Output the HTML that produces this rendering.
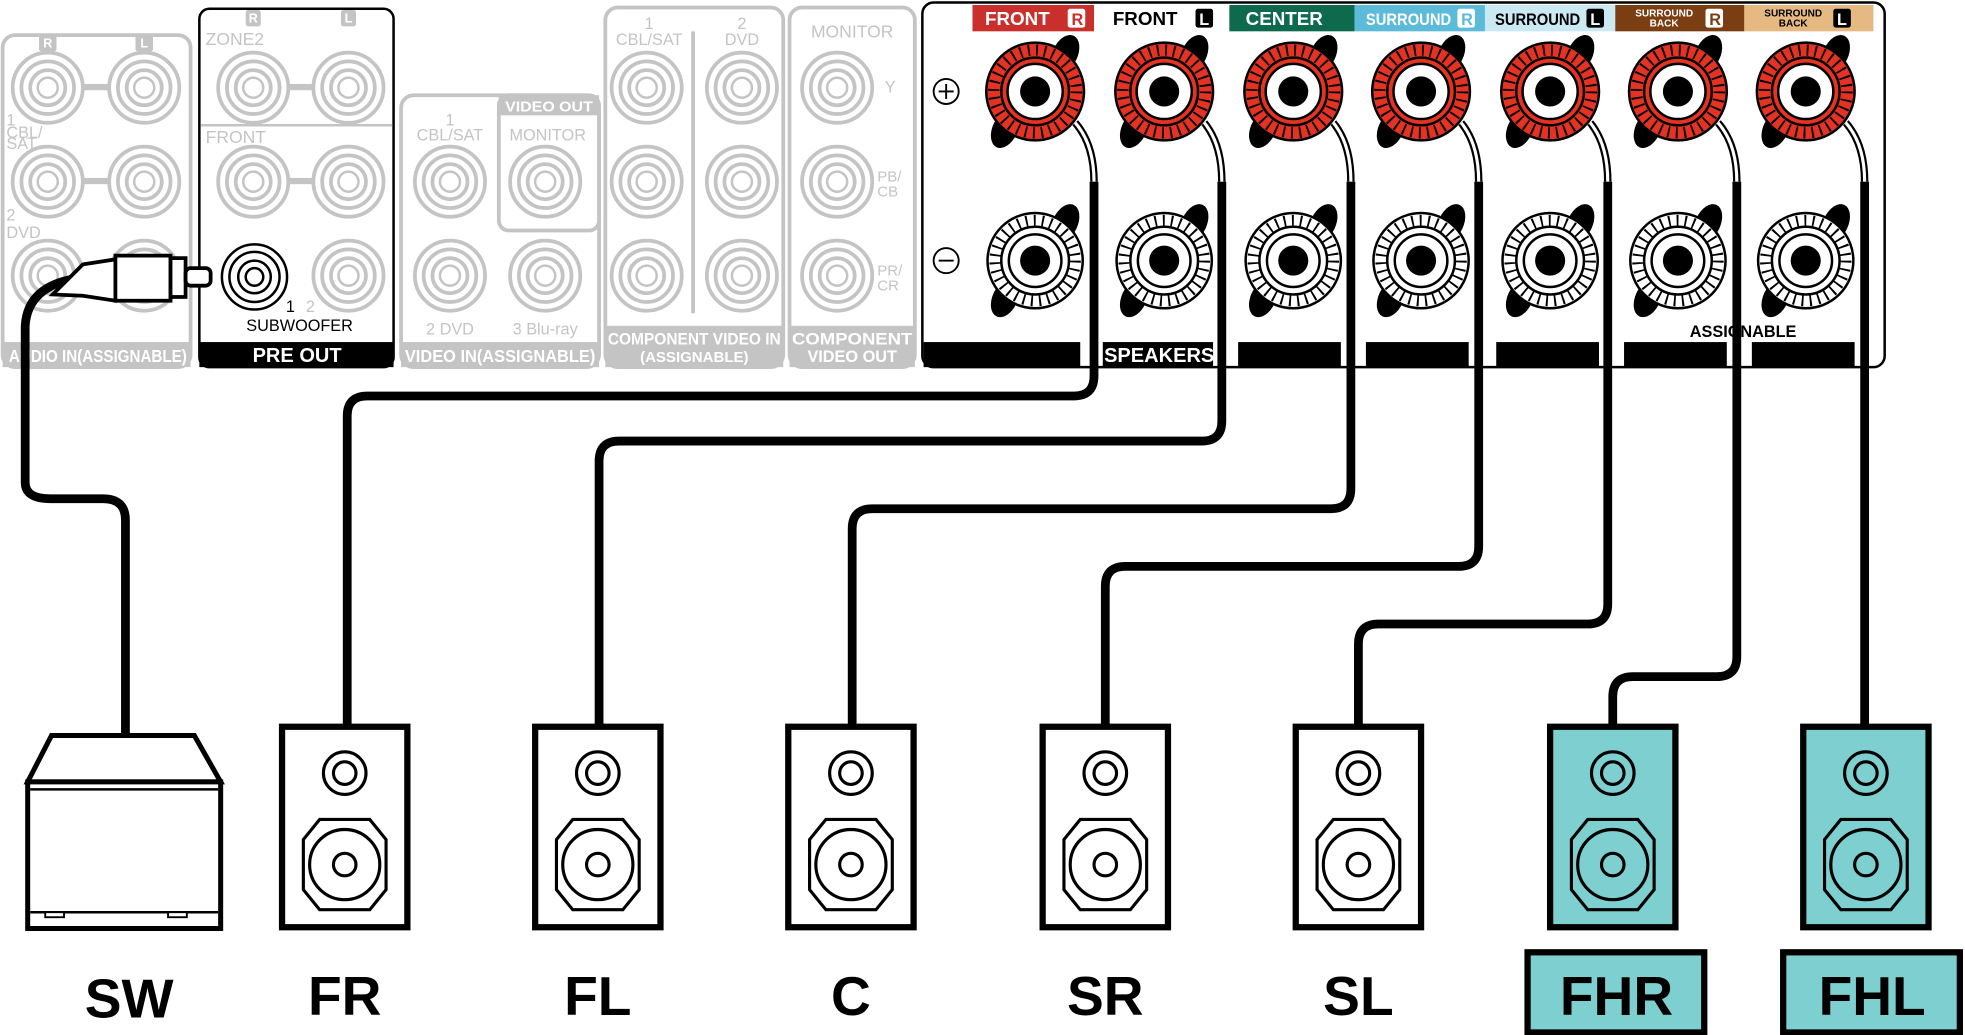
<!DOCTYPE html>
<html><head><meta charset="utf-8"><style>
html,body{margin:0;padding:0;background:#fff;}
svg{display:block;}
text{font-family:"Liberation Sans",sans-serif;}
</style></head><body>
<svg width="1965" height="1035" viewBox="0 0 1568 826" xmlns="http://www.w3.org/2000/svg">
<defs>
  <g id="rca">
    <circle r="28" fill="#fff" stroke="#c4c4c4" stroke-width="3"/>
    <circle r="21" fill="none" stroke="#c4c4c4" stroke-width="3"/>
    <circle r="14" fill="none" stroke="#c4c4c4" stroke-width="3"/>
    <circle r="8" fill="none" stroke="#c4c4c4" stroke-width="2"/>
  </g>
  <g id="tplus">
    <ellipse cx="24" cy="-30" rx="10" ry="16" transform="rotate(25 24 -30)" fill="#000"/>
    <ellipse cx="-24" cy="30" rx="10" ry="16" transform="rotate(25 -24 30)" fill="#000"/>
    <circle r="39" fill="#e53323" stroke="#000" stroke-width="2"/>
    <circle r="33" fill="none" stroke="#000" stroke-width="9" stroke-dasharray="1.5 5"/>
    <circle r="27" fill="#e53323" stroke="#000" stroke-width="2"/>
    <circle r="22" fill="#fff" stroke="#000" stroke-width="2"/>
    <circle r="12" fill="#000"/>
  </g>
  <g id="tminus">
    <ellipse cx="24" cy="-30" rx="10" ry="16" transform="rotate(25 24 -30)" fill="#000"/>
    <ellipse cx="-24" cy="30" rx="10" ry="16" transform="rotate(25 -24 30)" fill="#000"/>
    <circle r="38" fill="#fff" stroke="#000" stroke-width="2"/>
    <circle r="32" fill="none" stroke="#000" stroke-width="9" stroke-dasharray="1.5 5"/>
    <circle r="27" fill="#fff" stroke="#000" stroke-width="2"/>
    <circle r="21" fill="#fff" stroke="#000" stroke-width="2"/>
    <circle r="12" fill="#000"/>
  </g>
  <g id="spk">
    <rect x="-50" y="0" width="100" height="160" stroke="#000" stroke-width="5"/>
    <circle cx="0" cy="37" r="17" fill="none" stroke="#000" stroke-width="2.5"/>
    <circle cx="0" cy="37" r="9" fill="none" stroke="#000" stroke-width="2.5"/>
    <path d="M-20,74 L20,74 L33,90 L33,130 L20,146 L-20,146 L-33,130 L-33,90 Z" fill="none" stroke="#000" stroke-width="2.5"/>
    <circle cx="0" cy="110" r="28" fill="none" stroke="#000" stroke-width="2.5"/>
    <circle cx="0" cy="110" r="9" fill="none" stroke="#000" stroke-width="2.5"/>
  </g>
</defs>

<!-- grey left panels -->
<g fill="none" stroke="#c4c4c4" stroke-width="3">
  <rect x="2" y="28" width="150" height="265" rx="10"/>
  <rect x="320" y="76" width="158" height="217" rx="10"/>
  <rect x="398" y="76" width="80" height="108" rx="8"/>
  <rect x="483" y="6" width="142" height="287" rx="10"/>
  <rect x="630" y="6" width="100" height="287" rx="10"/>
  <line x1="553" y1="25" x2="553" y2="250"/>
</g>
<g fill="#c4c4c4">
  <rect x="2" y="273" width="150" height="20"/>
  <rect x="320" y="273" width="158" height="20"/>
  <rect x="398" y="76" width="80" height="16"/>
  <rect x="483" y="260" width="142" height="33"/>
  <rect x="630" y="260" width="100" height="33"/>
  <rect x="62" y="67" width="30" height="5"/>
  <rect x="62" y="142" width="30" height="5"/>
  <rect x="225" y="67" width="30" height="5"/>
  <rect x="225" y="142" width="30" height="5"/>
  <rect x="31" y="27" width="14" height="14" rx="2"/>
  <rect x="108" y="27" width="14" height="14" rx="2"/>
  <rect x="196" y="8" width="12" height="13" rx="2"/>
  <rect x="272" y="8" width="12" height="13" rx="2"/>
</g>
<g fill="#fff" font-size="10" font-weight="bold" text-anchor="middle">
  <text x="38" y="38">R</text><text x="115" y="38">L</text>
  <text x="202" y="18">R</text><text x="278" y="18">L</text>
</g>
<use href="#rca" x="38" y="70"/><use href="#rca" x="115" y="70"/>
<use href="#rca" x="38" y="145"/><use href="#rca" x="115" y="145"/>
<use href="#rca" x="38" y="220"/><use href="#rca" x="115" y="220"/>
<use href="#rca" x="202" y="70"/><use href="#rca" x="278" y="70"/>
<use href="#rca" x="202" y="145"/><use href="#rca" x="278" y="145"/>
<use href="#rca" x="278" y="220"/>
<use href="#rca" x="359" y="145"/><use href="#rca" x="435" y="145"/>
<use href="#rca" x="359" y="220"/><use href="#rca" x="435" y="220"/>
<use href="#rca" x="516" y="70"/><use href="#rca" x="592" y="70"/>
<use href="#rca" x="516" y="145"/><use href="#rca" x="592" y="145"/>
<use href="#rca" x="516" y="220"/><use href="#rca" x="592" y="220"/>
<use href="#rca" x="668" y="70"/><use href="#rca" x="668" y="145"/><use href="#rca" x="668" y="220"/>
<g fill="#c4c4c4" font-size="13">
  <text x="5" y="100">1</text><text x="5" y="110">CBL/</text><text x="5" y="119">SAT</text>
  <text x="5" y="176">2</text><text x="5" y="190">DVD</text>
  <text x="164" y="36" font-size="14">ZONE2</text>
  <text x="164" y="114" font-size="14">FRONT</text>
  <text x="359" y="100" text-anchor="middle">1</text><text x="359" y="112" text-anchor="middle">CBL/SAT</text>
  <text x="437" y="112" text-anchor="middle">MONITOR</text>
  <text x="359" y="267" text-anchor="middle">2 DVD</text><text x="435" y="267" text-anchor="middle">3 Blu-ray</text>
  <text x="518" y="23" text-anchor="middle">1</text><text x="518" y="36" text-anchor="middle">CBL/SAT</text>
  <text x="592" y="23" text-anchor="middle">2</text><text x="592" y="36" text-anchor="middle">DVD</text>
  <text x="680" y="30" text-anchor="middle" font-size="14">MONITOR</text>
  <text x="706" y="74">Y</text>
  <text x="700" y="145" font-size="12">PB/</text><text x="700" y="157" font-size="12">CB</text>
  <text x="700" y="220" font-size="12">PR/</text><text x="700" y="232" font-size="12">CR</text>
</g>
<g fill="#fff" font-weight="bold" text-anchor="middle">
  <text x="438" y="89" font-size="12" textLength="70" lengthAdjust="spacingAndGlyphs">VIDEO OUT</text>
  <text x="78" y="289" font-size="14" textLength="142" lengthAdjust="spacingAndGlyphs">AUDIO IN(ASSIGNABLE)</text>
  <text x="399" y="289" font-size="14" textLength="152" lengthAdjust="spacingAndGlyphs">VIDEO IN(ASSIGNABLE)</text>
  <text x="554" y="275" font-size="13" textLength="138" lengthAdjust="spacingAndGlyphs">COMPONENT VIDEO IN</text>
  <text x="554" y="289" font-size="12">(ASSIGNABLE)</text>
  <text x="680" y="275" font-size="13" textLength="96" lengthAdjust="spacingAndGlyphs">COMPONENT</text>
  <text x="680" y="289" font-size="13">VIDEO OUT</text>
</g>

<!-- PRE OUT panel -->
<rect x="159" y="7" width="155" height="286" rx="8" fill="none" stroke="#000" stroke-width="2"/>
<line x1="160" y1="100" x2="313" y2="100" stroke="#c4c4c4" stroke-width="2"/>
<rect x="159" y="273" width="155" height="20" fill="#000"/>
<text x="237" y="289" fill="#fff" font-size="16" font-weight="bold" text-anchor="middle">PRE OUT</text>
<g fill="none" stroke="#000" stroke-width="2">
  <circle cx="203" cy="221" r="26"/><circle cx="203" cy="221" r="20"/><circle cx="203" cy="221" r="13"/><circle cx="203" cy="221" r="7"/>
</g>
<text x="228" y="249" font-size="13">1</text><text x="244" y="249" font-size="13" fill="#c4c4c4">2</text>
<text x="239" y="264" font-size="13" text-anchor="middle">SUBWOOFER</text>

<!-- SW plug and cable -->
<path d="M62,222 Q22,228 20,260 L20,385 Q20,398 40,398 L82,398 Q100,398 100,415 L100,585" fill="none" stroke="#000" stroke-width="7"/>
<path d="M42,235 L66,211 L92,207 L92,240 L66,236 Z" fill="#fff" stroke="#000" stroke-width="3"/>
<rect x="92" y="204" width="44" height="36" fill="#fff" stroke="#000" stroke-width="3"/>
<rect x="136" y="206" width="12" height="31" fill="#fff" stroke="#000" stroke-width="3"/>
<rect x="148" y="214" width="20" height="14" rx="4" fill="#fff" stroke="#000" stroke-width="3"/>

<!-- speaker terminal panel -->
<rect x="736" y="2" width="768" height="291" rx="9" fill="#fff" stroke="#000" stroke-width="2"/>
<rect x="776" y="4" width="97" height="21" fill="#c9302c"/>
<rect x="981" y="4" width="100" height="21" fill="#0d6a4d"/>
<rect x="1081" y="4" width="104" height="21" fill="#5bbbd9"/>
<rect x="1185" y="4" width="104" height="21" fill="#cbe9f3"/>
<rect x="1289" y="4" width="103" height="21" fill="#7a3e12"/>
<rect x="1392" y="4" width="103" height="21" fill="#e6b982"/>
<g font-weight="bold">
  <text x="786" y="20" fill="#fff" font-size="15">FRONT</text>
  <rect x="852" y="7" width="14" height="15" rx="2" fill="#fff"/><text x="855" y="20" font-size="13" fill="#c9302c">R</text>
  <text x="888" y="20" fill="#000" font-size="15">FRONT</text>
  <rect x="954" y="7" width="14" height="15" rx="2" fill="#000"/><text x="957" y="20" font-size="13" fill="#fff">L</text>
  <text x="994" y="20" fill="#fff" font-size="15">CENTER</text>
  <text x="1090" y="20" fill="#fff" font-size="13" textLength="68" lengthAdjust="spacingAndGlyphs">SURROUND</text>
  <rect x="1163" y="7" width="14" height="15" rx="2" fill="#fff"/><text x="1166" y="20" font-size="13" fill="#5bbbd9">R</text>
  <text x="1193" y="20" fill="#000" font-size="13" textLength="68" lengthAdjust="spacingAndGlyphs">SURROUND</text>
  <rect x="1266" y="7" width="14" height="15" rx="2" fill="#000"/><text x="1269" y="20" font-size="13" fill="#fff">L</text>
  <text x="1328" y="13" fill="#fff" font-size="8" text-anchor="middle">SURROUND</text><text x="1328" y="21" fill="#fff" font-size="8" text-anchor="middle">BACK</text>
  <rect x="1361" y="7" width="14" height="15" rx="2" fill="#fff"/><text x="1364" y="20" font-size="13" fill="#7a3e12">R</text>
  <text x="1431" y="13" fill="#000" font-size="8" text-anchor="middle">SURROUND</text><text x="1431" y="21" fill="#000" font-size="8" text-anchor="middle">BACK</text>
  <rect x="1463" y="7" width="14" height="15" rx="2" fill="#000"/><text x="1466" y="20" font-size="13" fill="#fff">L</text>
</g>
<g fill="none" stroke="#000" stroke-width="1.5">
  <circle cx="755" cy="73" r="10"/><path d="M749,73 H761 M755,67 V79"/>
  <circle cx="755" cy="208" r="10"/><path d="M749,208 H761"/>
</g>
<g fill="#000">
  <rect x="737" y="273" width="125" height="20"/>
  <rect x="880" y="273" width="88" height="20"/>
  <rect x="988" y="273" width="82" height="20"/>
  <rect x="1090" y="273" width="82" height="20"/>
  <rect x="1194" y="273" width="82" height="20"/>
  <rect x="1296" y="273" width="82" height="20"/>
  <rect x="1398" y="273" width="82" height="20"/>
</g>
<text x="925" y="289" fill="#fff" font-size="16" font-weight="bold" text-anchor="middle">SPEAKERS</text>
<text x="1391" y="269" fill="#000" font-size="13" font-weight="bold" text-anchor="middle">ASSIGNABLE</text>

<use href="#tplus" x="826" y="73"/><use href="#tplus" x="929" y="73"/><use href="#tplus" x="1032" y="73"/>
<use href="#tplus" x="1134" y="73"/><use href="#tplus" x="1237" y="73"/><use href="#tplus" x="1339" y="73"/><use href="#tplus" x="1441" y="73"/>
<use href="#tminus" x="826" y="208"/><use href="#tminus" x="929" y="208"/><use href="#tminus" x="1032" y="208"/>
<use href="#tminus" x="1134" y="208"/><use href="#tminus" x="1237" y="208"/><use href="#tminus" x="1339" y="208"/><use href="#tminus" x="1441" y="208"/>

<!-- wire heads (white with black outline) -->
<g fill="none" stroke="#000" stroke-width="6">
  <path d="M858,98 Q873,115 873,145"/><path d="M961,98 Q975,115 975,145"/><path d="M1064,98 Q1078,115 1078,145"/>
  <path d="M1166,98 Q1180,115 1180,145"/><path d="M1269,98 Q1283,115 1283,145"/><path d="M1371,98 Q1386,115 1386,145"/><path d="M1473,98 Q1488,115 1488,145"/>
</g>
<g fill="none" stroke="#fff" stroke-width="2.5">
  <path d="M858,98 Q873,115 873,145"/><path d="M961,98 Q975,115 975,145"/><path d="M1064,98 Q1078,115 1078,145"/>
  <path d="M1166,98 Q1180,115 1180,145"/><path d="M1269,98 Q1283,115 1283,145"/><path d="M1371,98 Q1386,115 1386,145"/><path d="M1473,98 Q1488,115 1488,145"/>
</g>
<!-- wires -->
<g fill="none" stroke="#000" stroke-width="7">
  <path d="M873,145 V300 Q873,316 857,316 H293 Q277,316 277,332 V582"/>
  <path d="M975,145 V336 Q975,352 959,352 H494 Q478,352 478,368 V582"/>
  <path d="M1078,145 V390 Q1078,406 1062,406 H696 Q680,406 680,422 V582"/>
  <path d="M1180,145 V436 Q1180,452 1164,452 H898 Q882,452 882,468 V582"/>
  <path d="M1283,145 V482 Q1283,498 1267,498 H1100 Q1084,498 1084,514 V582"/>
  <path d="M1386,145 V524 Q1386,540 1370,540 H1303 Q1287,540 1287,556 V582"/>
  <path d="M1488,145 V582"/>
</g>

<!-- subwoofer -->
<g fill="#fff" stroke="#000">
  <path d="M41,587 L155,587 L176,624 L22,624 Z" stroke-width="4"/>
  <rect x="22" y="624" width="154" height="117" stroke-width="4"/>
  <line x1="24" y1="630" x2="174" y2="630" stroke-width="2"/>
  <line x1="24" y1="728" x2="174" y2="728" stroke-width="2"/>
  <rect x="36" y="728" width="15" height="4" stroke-width="1.5"/>
  <rect x="134" y="728" width="15" height="4" stroke-width="1.5"/>
</g>

<!-- speakers -->
<use href="#spk" x="275" y="580" fill="#fff"/>
<use href="#spk" x="477" y="580" fill="#fff"/>
<use href="#spk" x="679" y="580" fill="#fff"/>
<use href="#spk" x="882" y="580" fill="#fff"/>
<use href="#spk" x="1084" y="580" fill="#fff"/>
<use href="#spk" x="1287" y="580" fill="#7ecfcf"/>
<use href="#spk" x="1489" y="580" fill="#7ecfcf"/>

<!-- labels -->
<rect x="1219" y="760" width="141" height="64" fill="#7ecfcf" stroke="#000" stroke-width="5"/>
<rect x="1423" y="760" width="141" height="64" fill="#7ecfcf" stroke="#000" stroke-width="5"/>
<g font-size="44" font-weight="bold" text-anchor="middle" fill="#000">
  <text x="103" y="812">SW</text>
  <text x="275" y="810">FR</text>
  <text x="477" y="810">FL</text>
  <text x="679" y="810">C</text>
  <text x="882" y="810">SR</text>
  <text x="1084" y="810">SL</text>
  <text x="1290" y="810">FHR</text>
  <text x="1494" y="810">FHL</text>
</g>
</svg>
</body></html>
